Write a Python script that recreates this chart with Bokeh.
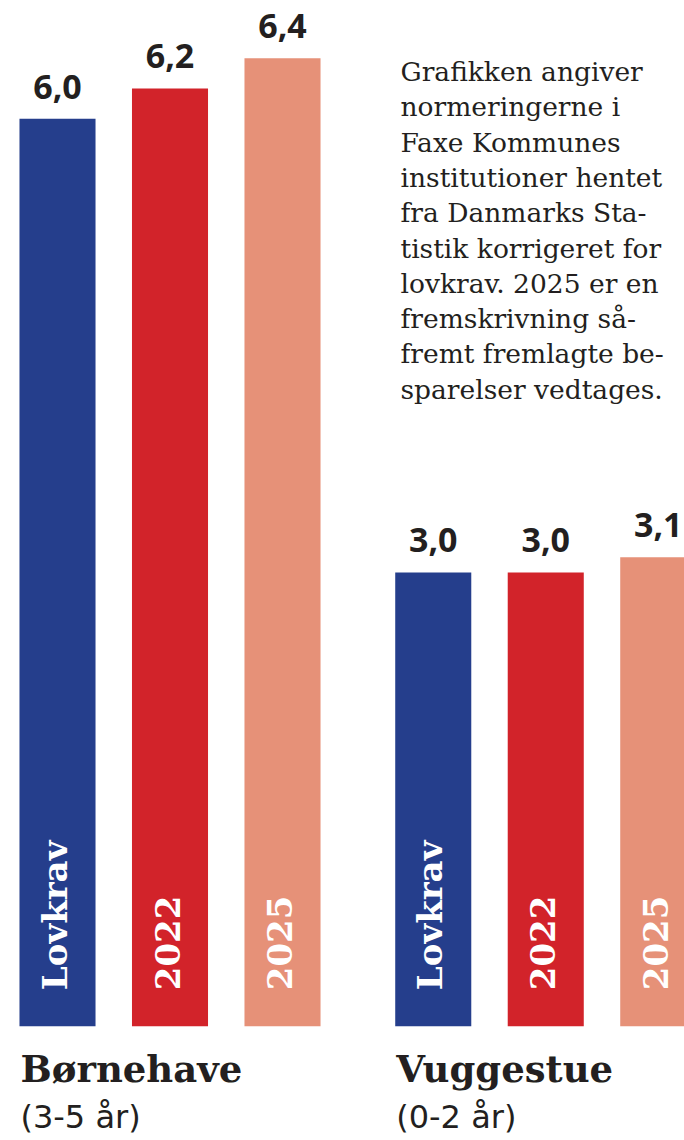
import math
from bokeh.plotting import figure
from bokeh.models import ColumnDataSource, Range1d
from bokeh.core.properties import value
from bokeh.embed import file_html
from bokeh.resources import INLINE

# ---------------- data ----------------
groups = ["Børnehave", "Vuggestue"]
group_subtitles = ["(3-5 år)", "(0-2 år)"]
series = ["Lovkrav", "2022", "2025"]
boernehave_values = [6.0, 6.2, 6.4]
vuggestue_values = [3.0, 3.0, 3.1]
series_colors = ["#253E8C", "#D2232A", "#E69178"]
note_lines = [
    "Grafikken angiver",
    "normeringerne i",
    "Faxe Kommunes",
    "institutioner hentet",
    "fra Danmarks Sta-",
    "tistik korrigeret for",
    "lovkrav. 2025 er en",
    "fremskrivning så-",
    "fremt fremlagte be-",
    "sparelser vedtages.",
]

# ---------------- layout ----------------
W, H = 684, 1140
GROUP_STEP = 3.34
BAR_W = 0.676
PX_X = 112.5      # px per x unit
PX_Y = 151.25     # px per value unit
X0 = 57.0         # x of first bar centre (px)
Y0 = 1025.7       # y of baseline (px from top)

x_start = -X0 / PX_X
x_end = (W - X0) / PX_X
y_start = -(H - Y0) / PX_Y
y_end = Y0 / PX_Y

def dx(px):
    return (px - X0) / PX_X

def dy(py):
    return (Y0 - py) / PX_Y

all_values = [boernehave_values, vuggestue_values]
xs, tops, colors, labels, names = [], [], [], [], []
for gi, vals in enumerate(all_values):
    for si, v in enumerate(vals):
        xs.append(gi * GROUP_STEP + si)
        tops.append(v)
        colors.append(series_colors[si])
        labels.append(f"{v:.1f}".replace(".", ","))
        names.append(series[si])

src = ColumnDataSource(dict(x=xs, top=tops, color=colors, label=labels,
                            name=names, zero=[0] * len(xs)))

p = figure(width=W, height=H, output_backend="svg", toolbar_location=None,
           x_range=Range1d(x_start, x_end), y_range=Range1d(y_start, y_end),
           x_axis_location=None, y_axis_location=None, min_border=0,
           outline_line_color=None, background_fill_color="white",
           border_fill_color="white")
p.grid.visible = False

p.vbar(x="x", top="top", bottom=0, width=BAR_W, fill_color="color",
       line_color=None, source=src)

# value labels
p.text(x="x", y="top", text="label", source=src, text_align="center",
       text_baseline="alphabetic", y_offset=-32, text_color="#231F20",
       text_font=value("Open Sans"), text_font_style="bold",
       text_font_size="34px")

# rotated series labels inside bars
p.text(x="x", y="zero", text="name", source=src, angle=math.pi / 2,
       text_align="left", text_baseline="alphabetic", x_offset=-3,
       y_offset=-36, text_color="white", text_font=value("DejaVu Serif"),
       text_font_style="bold", text_font_size="34px")

# group titles
gx = [gi * GROUP_STEP - BAR_W / 2 for gi in range(len(groups))]
tsrc = ColumnDataSource(dict(x=gx, y=[0] * len(groups), title=groups,
                             sub=group_subtitles))
p.text(x="x", y="y", text="title", source=tsrc, text_align="left",
       text_baseline="alphabetic", x_offset=1, y_offset=43,
       text_color="#231F20", text_font=value("DejaVu Serif"),
       text_font_style="bold", text_font_size="37px")
p.text(x="x", y="y", text="sub", source=tsrc, text_align="left",
       text_baseline="alphabetic", x_offset=1, y_offset=91,
       text_color="#231F20", text_font=value("DejaVu Sans"),
       text_font_size="32px")

# explanatory note
nsrc = ColumnDataSource(dict(
    x=[dx(400)] * len(note_lines),
    y=[dy(71 + i * 35.3) for i in range(len(note_lines))],
    t=note_lines))
p.text(x="x", y="y", text="t", source=nsrc, text_align="left",
       text_baseline="alphabetic", text_color="#231F20",
       text_font=value("DejaVu Serif"), text_font_size="26.5px")

open("out.html", "w").write(file_html(p, INLINE))
